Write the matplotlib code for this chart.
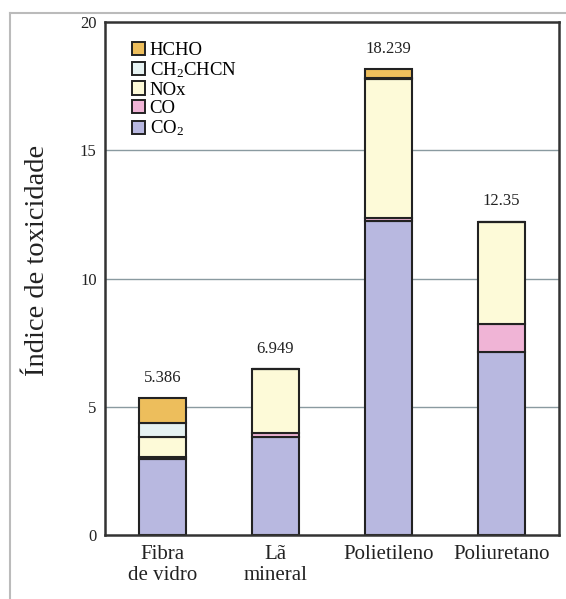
import numpy as np
import matplotlib
matplotlib.use('Agg')
import matplotlib.pyplot as plt
from matplotlib.patches import Patch
from matplotlib.lines import Line2D

plt.rcParams['font.family'] = ['Liberation Serif', 'DejaVu Serif']
plt.rcParams['mathtext.fontset'] = 'custom'
plt.rcParams['mathtext.rm'] = 'Liberation Serif'
plt.rcParams['mathtext.it'] = 'Liberation Serif:italic'

# ── dados ─────────────────────────────────────────────
categorias = ["Fibra\nde vidro", "Lã\nmineral", "Polietileno", "Poliuretano"]
totais_txt = ["5.386", "6.949", "18.239", "12.35"]

# empilhamento de baixo para cima
co2     = [2.98, 3.83, 12.23, 7.15]
co      = [0.04, 0.14, 0.14, 1.06]
nox     = [0.78, 2.49, 5.40, 4.00]
ch2chcn = [0.56, 0.00, 0.04, 0.00]
hcho    = [0.98, 0.00, 0.35, 0.00]

series = [co2, co, nox, ch2chcn, hcho]
nomes  = ["CO$_2$", "CO", "NOx", "CH$_2$CHCN", "HCHO"]
cores  = ["#b8b8e0", "#f0b4d6", "#fdfad8", "#e6f2f2", "#edbe5c"]

yticks = [0, 5, 10, 15, 20]

# ── figura ────────────────────────────────────────────
fig = plt.figure(figsize=(5.66, 5.99), dpi=100)
ax = fig.add_axes([0.1855, 0.107, 0.802, 0.856])

x = np.arange(len(categorias))
largura = 0.415

ax.set_axisbelow(True)
for yv in yticks[1:-1]:
    ax.axhline(yv, color="#8a9aa0", linewidth=1.0, zorder=0)

base = np.zeros(len(categorias))
for vals, cor in zip(series, cores):
    vals = np.array(vals)
    ax.bar(x, vals, largura, bottom=base, color=cor,
           edgecolor="#222222", linewidth=1.5, zorder=2)
    base += vals

for xi, topo, txt in zip(x, base, totais_txt):
    ax.annotate(txt, (xi, topo), xytext=(0, 9), textcoords="offset points",
                ha="center", va="bottom", fontsize=12, color="#222222")

ax.set_xlim(-0.51, 3.51)
ax.set_ylim(0, 20)
ax.set_xticks(x)
ax.set_xticklabels(categorias, fontsize=15, linespacing=1.2, color="#222222")
ax.set_yticks(yticks)
ax.set_yticklabels([str(v) for v in yticks], fontsize=12, color="#222222")
ax.tick_params(axis="both", length=0)
ax.tick_params(axis="x", pad=7)
ax.tick_params(axis="y", pad=6)

for s in ax.spines.values():
    s.set_linewidth(1.8)
    s.set_color("#333333")

ax.set_ylabel("Índice de toxicidade", fontsize=20.5, color="#222222")
ax.yaxis.set_label_coords(-0.121, 0.536)

handles = [Patch(facecolor=c, edgecolor="#222222", linewidth=1.4) for c in cores]
ax.legend(handles[::-1], nomes[::-1], loc="upper left",
          bbox_to_anchor=(0.059, 0.962), frameon=False, fontsize=13.5,
          borderpad=0, borderaxespad=0, handlelength=0.7, handleheight=0.7,
          handletextpad=0.25, labelspacing=0.08)

# moldura externa cinza
fig.add_artist(Line2D([0.0177, 0.0177], [0, 0.978], color="#bbbbbb",
                      linewidth=1.5, transform=fig.transFigure))
fig.add_artist(Line2D([0.0177, 1], [0.978, 0.978], color="#bbbbbb",
                      linewidth=1.5, transform=fig.transFigure))

fig.savefig("out.png", dpi=100)
